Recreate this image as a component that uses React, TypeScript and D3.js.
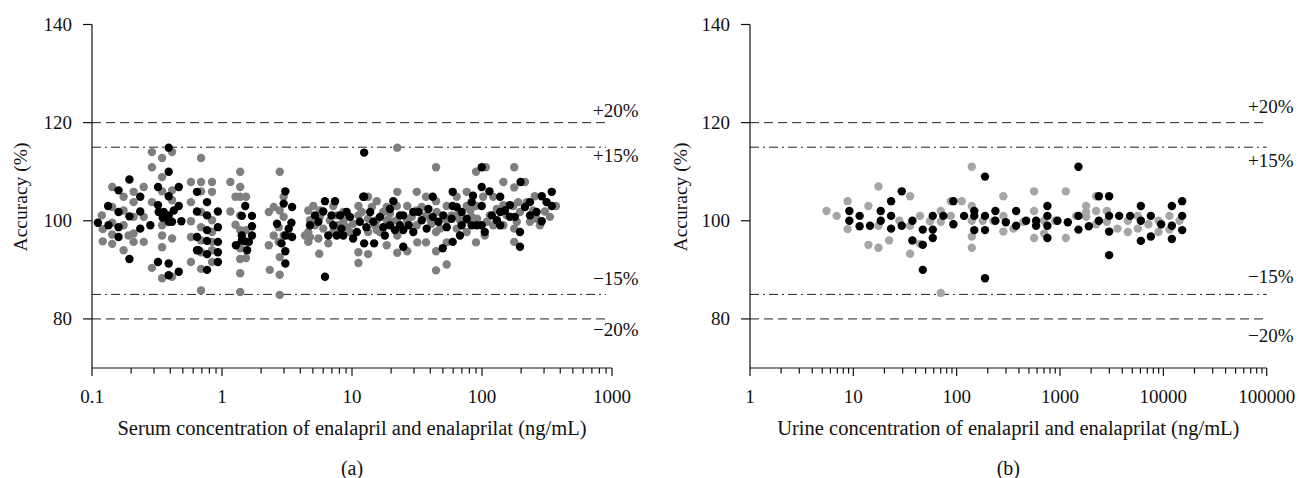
import React from "react";
import * as d3 from "d3";

// ---------- DATA ----------
// Panel (a): serum, [concentration ng/mL, accuracy %]
const serumGray: [number, number][] = [
  [0.119,101.1],[0.121,98.3],[0.121,95.8],[0.143,106.9],[0.143,102.8],[0.143,99.6],[0.143,97.2],[0.143,95.3],[0.175,104.9],[0.175,99.1],[0.175,94.0],[0.175,102.1],[0.191,97.0],[0.209,105.9],[0.209,103.8],[0.209,100.8],[0.209,97.4],[0.209,95.7],[0.25,106.9],[0.25,100.8],[0.25,95.7],
  [0.289,114.0],[0.289,110.9],[0.289,103.8],[0.289,90.4],[0.346,112.8],[0.346,108.9],[0.346,106.0],[0.346,99.1],[0.346,97.0],[0.346,94.6],[0.346,88.3],[0.413,114.0],[0.413,106.2],[0.413,104.2],[0.413,96.4],[0.413,88.6],
  [0.577,107.9],[0.577,103.8],[0.577,99.9],[0.577,96.7],[0.577,91.6],[0.69,112.8],[0.69,107.9],[0.69,106.0],[0.69,101.8],[0.69,98.7],[0.69,96.0],[0.69,93.6],[0.69,90.2],[0.69,85.8],[0.838,107.9],[0.838,105.9],[0.838,100.1],[0.838,97.7],[0.838,95.7],[0.838,94.0],[0.838,91.6],
  [1.16,107.9],[1.16,101.9],[1.38,110.0],[1.38,106.9],[1.38,104.9],[1.38,101.1],[1.38,98.1],[1.38,94.4],[1.38,92.2],[1.38,89.3],[1.38,85.5],[1.27,104.9],[1.53,104.9],[1.53,92.4],[1.27,99.2],[1.53,98.1],
  [2.78,110.0],[2.98,104.9],[2.50,102.8],[2.29,101.8],[2.78,102.1],[2.73,98.7],[2.50,97.0],[2.29,95.0],[2.98,97.0],[2.73,95.7],[2.78,92.6],[2.33,90.0],[2.78,89.0],[2.78,84.9],[3.26,97.0],[2.98,100.8],
  [4.61,102.1],[5.04,103.0],[4.75,100.1],[4.61,97.7],[4.75,96.7],[4.61,95.7],[5.51,96.4],[5.60,93.3],[6.57,95.4],[6.01,98.4],[5.67,100.8],[5.19,99.1],
  [4.35,97.0],[6.75,100.1],[7.86,99.1],[9.1,100.8],[5.67,102.1],
  [7.18,103.0],[7.63,101.1],[8.57,99.8],[10.2,99.4],[8.09,97.7],[9.65,97.7],[11.2,103.0],[11.2,101.1],[11.2,93.6],[11.2,91.4],[8.57,101.8],[7.18,97.7],[9.1,98.7],
  [13.3,104.9],[15.5,104.0],[13.3,100.4],[15.5,100.1],[18.5,102.8],[18.5,100.1],[22.1,103.0],[22.1,100.1],[22.3,105.9],[18.5,95.0],[13.3,93.2],[13.3,97.7],[16.4,97.7],[22.3,93.5],[22.3,97.0],[22.3,114.9],[19.6,101.5],[15.0,99.1],
  [11.9,101.8],[14.2,102.8],[17.4,101.8],[20.2,99.8],[15.5,98.1],
  [26.6,103.0],[31.5,105.9],[26.6,100.1],[31.5,99.1],[37.1,104.9],[37.1,101.1],[44.3,110.9],[44.3,104.0],[44.3,97.7],[44.3,93.8],[44.3,89.9],[31.8,95.6],[37.1,95.6],[26.6,93.8],[31.5,102.1],[41.0,99.4],[44.8,101.8],
  [28.8,100.8],[34.4,102.8],[40.3,100.1],[47.6,98.4],[58.4,101.1],[67.7,100.1],[81.4,102.1],[91.6,100.4],
  [53.5,103.0],[53.5,100.1],[53.5,95.6],[53.5,91.1],[63.9,104.9],[76.3,105.9],[63.9,101.1],[76.3,103.0],[76.3,97.7],[89.9,110.0],[89.9,103.0],[89.9,95.6],[63.9,98.4],[74.0,100.1],[83.3,100.8],
  [102,104.9],[107,110.9],[115,101.1],[122,104.9],[146,107.9],[146,103.2],[146,99.1],[177,110.9],[177,106.8],[177,95.7],[177,98.4],[174,103.0],[122,99.1],[105,97.0],
  [109,99.8],[130,102.4],[155,101.1],[190,103.8],[248,102.1],[279,99.1],[333,100.8],
  [214,107.9],[196,101.8],[221,103.8],[234,99.8],[255,105.0],[305,101.9],[371,103.0],[263,100.4],[185,99.8]
];
const serumBlack: [number, number][] = [
  [0.111,99.6],[0.133,103.0],[0.134,99.1],[0.160,106.2],[0.160,101.8],[0.160,98.7],[0.160,96.7],[0.194,108.4],[0.194,100.9],[0.194,92.2],[0.235,104.9],[0.235,101.9],[0.235,98.4],
  [0.389,114.9],[0.389,110.0],[0.322,106.9],[0.281,99.1],[0.322,103.2],[0.322,91.6],[0.389,105.0],[0.389,101.1],[0.389,99.8],[0.389,91.3],[0.389,88.9],[0.465,106.9],[0.465,103.0],[0.465,89.6],[0.487,99.9],[0.426,102.1],[0.356,101.8],[0.326,101.8],[0.413,99.8],[0.35,100.6],
  [0.642,105.9],[0.642,101.9],[0.642,96.7],[0.642,94.0],[0.767,103.8],[0.767,101.1],[0.767,98.1],[0.767,95.9],[0.767,93.2],[0.767,90.0],[0.93,101.9],[0.93,98.7],[0.93,95.7],[0.93,93.6],[0.93,91.6],[0.66,94.0],
  [1.51,103.0],[1.42,101.0],[1.70,101.0],[1.70,98.9],[1.42,97.0],[1.70,97.0],[1.51,95.8],[1.28,95.0],[1.56,94.0],[1.42,96.0],[1.61,95.7],
  [3.07,106.0],[2.98,103.5],[3.46,102.8],[2.65,99.4],[3.42,99.6],[3.26,98.4],[3.07,97.0],[3.46,96.7],[3.07,93.8],[3.07,91.3],[2.87,95.4],
  [5.19,101.1],[6.01,101.9],[6.2,104.0],[7.18,99.1],[4.75,99.1],[6.57,97.0],[6.2,88.6],
  [5.51,99.8],[6.96,101.1],[8.3,98.4],[9.1,101.8],
  [7.4,104.0],[8.09,101.1],[9.65,100.8],[10.2,96.4],[8.57,97.0],[7.63,97.0],[12.4,113.9],[12.2,104.9],[11.5,99.8],[10.9,97.7],
  [12.4,104.9],[13.8,101.8],[16.4,100.8],[20.8,104.0],[19.6,99.1],[23.4,101.1],[12.4,95.4],[14.8,95.4],[12.9,98.7],[17.9,97.0],[21.4,98.1],
  [14.6,99.8],[17.4,98.7],[19.6,102.4],[23.4,99.1],
  [24.8,101.1],[29.6,101.8],[24.8,94.7],[24.8,98.1],[34.4,100.1],[41.8,104.9],[41.8,100.8],[37.5,98.4],[29.6,97.7],
  [27.3,99.1],[32.5,101.8],[38.7,102.4],[46.3,99.8],[53.5,98.7],[63.9,102.8],[76.3,100.4],[91.0,99.1],[85.3,105.1],
  [49.9,94.4],[59.5,105.9],[59.5,103.0],[59.5,95.7],[69.8,101.8],[69.8,99.1],[83.3,103.8],[83.3,99.1],[50.4,101.1],[58.4,100.4],[67.7,97.0],
  [99.5,110.9],[99.5,106.9],[114,106.0],[99.5,103.0],[99.5,99.1],[119,101.1],[138,104.9],[138,101.8],[164,103.2],[164,100.8],[196,97.7],[196,94.7],[138,99.1],[105,97.7],
  [130,100.1],[150,102.1],[179,100.8],[214,102.8],[263,101.8],[314,103.8],
  [198,107.9],[234,103.8],[288,105.0],[288,99.9],[344,105.9],[344,103.0],[234,101.1]
];

// Panel (b): urine
const urineGray: [number, number][] = [
  [5.5,102],[6.9,101],[8.8,104],[8.8,98.3],[14.0,103],[14.0,95.1],[17.5,107],[17.5,94.5],[17.5,99],[22.2,96],[27.9,100],[35.4,105],[35.4,99],[35.4,93.3],[44.2,101],[44.2,95.3],[55.3,99.9],[70.2,102],[70.2,99.8],[70.2,85.3],[87.7,104],[87.7,101],[112,104],
  [140,111],[140,103],[140,100],[140,96.8],[140,94.5],[179,100],[227,100],[283,105],[283,101],[283,97.8],[354,98.4],[442,99.8],[561,106],[561,102],[561,96.5],[702,100],[702,97.4],[897,100],[1138,106],[1138,96.5],[1432,101],
  [1789,103],[1789,101.8],[1789,100.8],[2235,105],[2235,102],[2235,99.3],[2840,102],[2840,99.8],[3595,98.4],[4533,100],[4533,97.7],[5664,101],[5664,98.4],[7175,99.3],[8970,100],[8970,97.7],[11460,101],[11460,98.2],[14320,100]
];
const urineBlack: [number, number][] = [
  [9.15,102],[9.15,100],[11.5,101],[11.5,98.9],[14.5,99],[18.4,102],[18.4,100],[23.2,104],[23.2,101],[23.2,98.4],[29.4,106],[29.4,99],[37.3,100],[37.3,96],[47.0,98.2],[47.0,95.1],[47.0,90],[58.7,101],[58.7,98.2],[58.7,96.5],[74.3,101],[92.9,104],[92.9,99.3],[118,101],
  [148,102],[148,101],[148,98.1],[188,109],[188,101],[188,98.1],[188,88.3],[237,102],[237,100],[299,99.7],[376,102],[376,99],[470,100],[587,100],[587,99],[755,103],[755,101],[755,99],[755,96.5],[944,100],[1189,99.7],
  [1508,111],[1508,101],[1508,98.2],[1900,98.9],[2375,105],[2375,100],[2987,105],[2987,101],[2987,97.8],[2987,93],[3735,101],[4773,101],[6055,103],[6055,100],[6055,95.9],[7568,101],[7568,96.8],[9520,99.3],[12080,103],[12080,99],[12080,96.3],[15210,104],[15210,101],[15210,98.1]
];

const yTicks = [80, 100, 120, 140];
const serumXTicks = [0.1, 1, 10, 100, 1000];
const urineXTicks = [1, 10, 100, 1000, 10000, 100000];
const limitValues = [120, 115, 85, 80];
const limitLabels = ["+20%", "+15%", "\u221215%", "\u221220%"];

const FONT = "'Liberation Serif', 'Times New Roman', serif";

type PanelProps = {
  gray: [number, number][];
  black: [number, number][];
  grayColor: string;
  xDomain: [number, number];
  xRange: [number, number];
  xTicks: number[];
  lineEnd: number;
  labelX: number;
  labelDy: number[];
  xTitle: string;
  letter: string;
  yTitleX: number;
};

function Panel(p: PanelProps) {
  const x = d3.scaleLog().domain(p.xDomain).range(p.xRange);
  const y = d3.scaleLinear().domain([70, 140]).range([368, 24.5]);
  const [x0, x1] = p.xRange;
  const y0 = y(70);
  const minor: number[] = [];
  for (let i = 0; i < p.xTicks.length - 1; i++) {
    for (let k = 2; k <= 9; k++) minor.push(p.xTicks[i] * k);
  }
  const cx = (x0 + x1) / 2;
  return (
    <g>
      {limitValues.map((v, i) => (
        <line key={"l" + i} x1={x0} x2={x(p.lineEnd)} y1={y(v)} y2={y(v)}
          stroke="#222" strokeWidth={1}
          strokeDasharray={i === 0 || i === 3 ? "9,5" : "9,4,2,4"} />
      ))}
      {limitValues.map((v, i) => (
        <text key={"t" + i} x={p.labelX} y={y(v) + p.labelDy[i]} dominantBaseline="central"
          fontFamily={FONT} fontSize={19} fill="#111">{limitLabels[i]}</text>
      ))}
      {p.gray.map((d, i) => (
        <circle key={"g" + i} cx={x(d[0])} cy={y(d[1])} r={4.2} fill={p.grayColor} />
      ))}
      {p.black.map((d, i) => (
        <circle key={"b" + i} cx={x(d[0])} cy={y(d[1])} r={4.2} fill="#000" />
      ))}
      <line x1={x0} x2={x0} y1={y(140)} y2={y0} stroke="#111" strokeWidth={1.2} />
      <line x1={x0} x2={x1} y1={y0} y2={y0} stroke="#111" strokeWidth={1.2} />
      {yTicks.map((t) => (
        <g key={"yt" + t}>
          <line x1={x0 - 9} x2={x0} y1={y(t)} y2={y(t)} stroke="#111" strokeWidth={1.2} />
          <text x={x0 - 20} y={y(t)} textAnchor="end" dominantBaseline="central"
            fontFamily={FONT} fontSize={19} fill="#111">{t}</text>
        </g>
      ))}
      {p.xTicks.map((t) => (
        <g key={"xt" + t}>
          <line x1={x(t)} x2={x(t)} y1={y0} y2={y0 + 8} stroke="#111" strokeWidth={1.2} />
          <text x={x(t)} y={y0 + 28} textAnchor="middle" dominantBaseline="central"
            fontFamily={FONT} fontSize={19} fill="#111">{String(t)}</text>
        </g>
      ))}
      {minor.map((t, i) => (
        <line key={"mt" + i} x1={x(t)} x2={x(t)} y1={y0} y2={y0 + 5.5} stroke="#111" strokeWidth={1.2} />
      ))}
      <text x={cx} y={428} textAnchor="middle" dominantBaseline="central"
        fontFamily={FONT} fontSize={20.5} fill="#111">{p.xTitle}</text>
      <text x={cx} y={468} textAnchor="middle" dominantBaseline="central"
        fontFamily={FONT} fontSize={20} fill="#111">{p.letter}</text>
      <text transform={`translate(${p.yTitleX},197) rotate(-90)`} textAnchor="middle" dominantBaseline="central"
        fontFamily={FONT} fontSize={19.5} fill="#111">Accuracy (%)</text>
    </g>
  );
}

export default function App() {
  return (
    <svg width={1299} height={478} style={{ position: "absolute", left: 0, top: 0, background: "#fff" }}>
      <rect width={1299} height={478} fill="#fff" />
      <Panel gray={serumGray} black={serumBlack} grayColor="#7f7f7f"
        xDomain={[0.1, 1000]} xRange={[92, 612]} xTicks={serumXTicks} lineEnd={900}
        labelX={593} labelDy={[-12.5, 8, -16, 11]}
        xTitle="Serum concentration of enalapril and enalaprilat (ng/mL)" letter="(a)" yTitleX={20} />
      <Panel gray={urineGray} black={urineBlack} grayColor="#a6a6a6"
        xDomain={[1, 100000]} xRange={[750, 1266.7]} xTicks={urineXTicks} lineEnd={100000}
        labelX={1248} labelDy={[-16, 13.5, -17.5, 17]}
        xTitle="Urine concentration of enalapril and enalaprilat (ng/mL)" letter="(b)" yTitleX={680} />
    </svg>
  );
}
